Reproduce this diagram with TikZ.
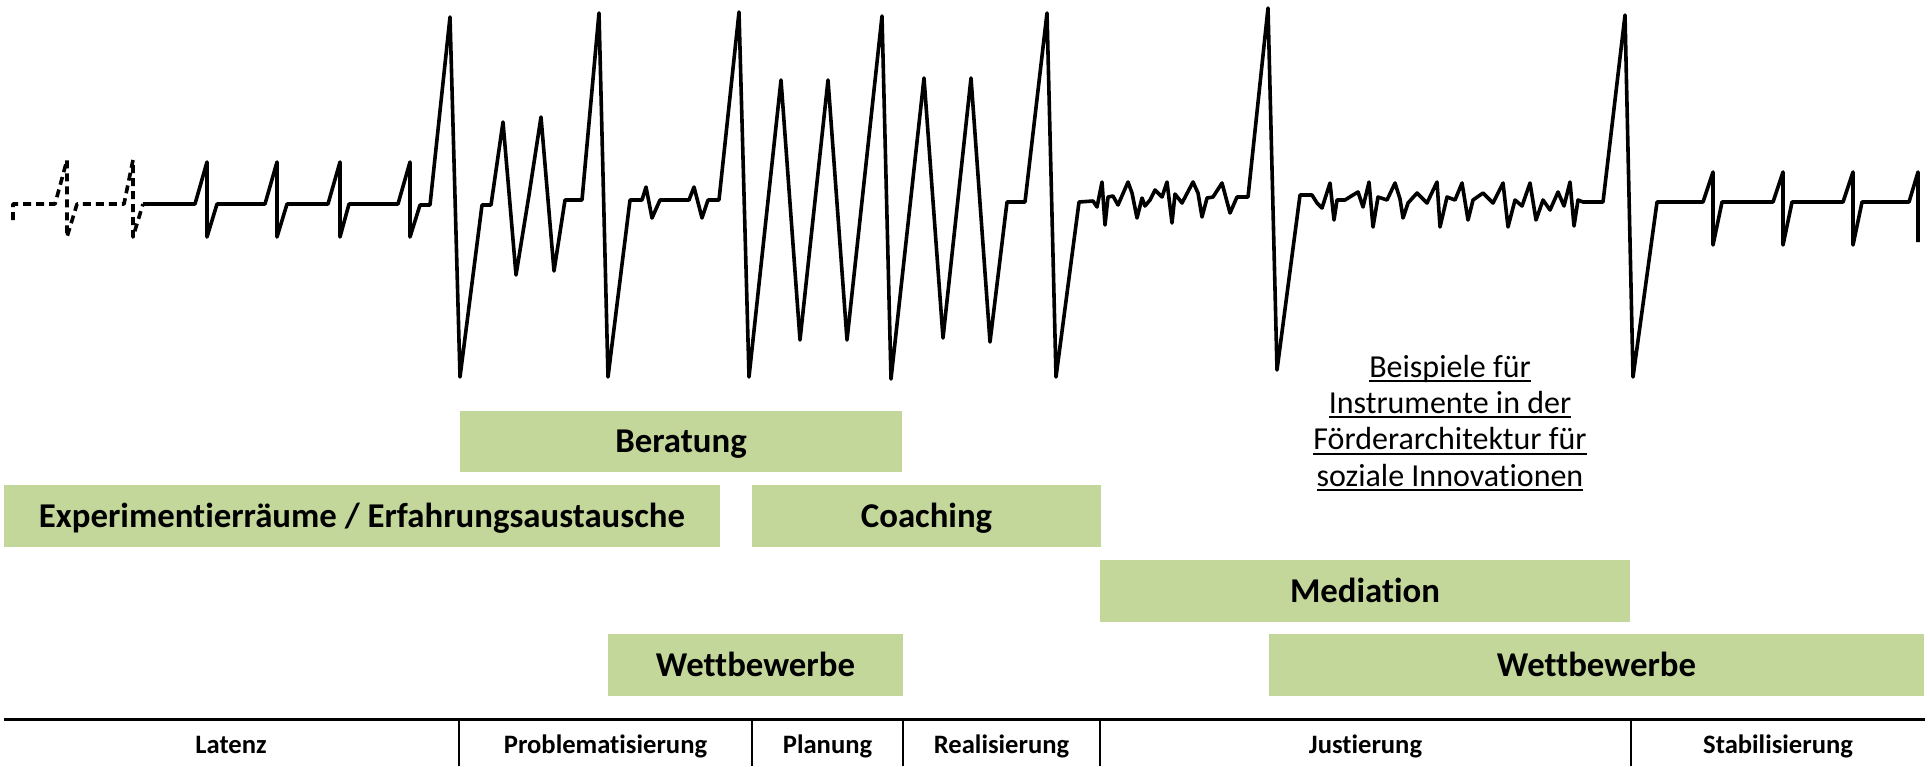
\documentclass[tikz,border=0pt]{standalone}
\usepackage{fontspec}
\setmainfont{Carlito}[Ligatures=NoCommon]
\definecolor{boxgreen}{HTML}{C4D79B}
\newcommand{\myul}[1]{\setbox0\hbox{#1}\rlap{\rule[-2.7pt]{\wd0}{1pt}}\box0}
\begin{document}
\begin{tikzpicture}[x=0.5pt,y=-0.5pt,
  wave/.style={line width=1.8pt, line join=round, black},
  dashwave/.style={wave, dash pattern=on 4pt off 2.5pt},
  box/.style={fill=boxgreen, inner sep=0pt, text height=11pt, text depth=0pt, font=\fontsize{17.4}{20}\selectfont\bfseries},
  phase/.style={anchor=base, inner sep=0pt, font=\fontsize{13.3}{15}\selectfont\bfseries},
  note/.style={anchor=base, inner sep=0pt, font=\fontsize{16}{18}\selectfont},
  rulebar/.style={line width=1.5pt, black},
  divider/.style={line width=1pt, black}
]
\useasboundingbox (0,0) rectangle (1930,766);

% ---------- waveform ----------
\draw[dashwave] (13,220) -- (13,204) -- (55,204) -- (67,160) -- (67,237) -- (77,204)
  -- (124,204) -- (133,160) -- (133,237) -- (143,204);
\draw[wave] (143,204) -- (195,204) -- (207,162) -- (207,237) -- (217,204)
  -- (265,204) -- (277,162) -- (277,237) -- (287,204)
  -- (328,204) -- (340,162) -- (340,237) -- (349,204)
  -- (398,204) -- (410,162) -- (410,237) -- (420,205) -- (430,205)
  -- (450,17) -- (460,377) -- (482,205) -- (491,205)
  -- (503,122) -- (516,275) -- (529,195) -- (541,117) -- (554,271) -- (565,200) -- (582,200)
  -- (599,13) -- (608,377) -- (630,200) -- (642,200)
  -- (646,187) -- (652,218) -- (660,200) -- (689,200) -- (694,187) -- (702,218) -- (708,200) -- (719,200)
  -- (739,12) -- (749,377) -- (781,80) -- (800,340) -- (828,80) -- (847,340)
  -- (882,16) -- (891,379) -- (924,78) -- (943,338) -- (971,78) -- (990,342)
  -- (1007,202) -- (1025,202) -- (1047,13) -- (1056,377) -- (1079,202) -- (1093,201)
  -- (1097,207) -- (1102,182) -- (1105,225) -- (1108,197) -- (1113,196) -- (1118,205)
  -- (1128,182) -- (1132,193) -- (1137,218) -- (1142,198) -- (1145,206) -- (1150,200)
  -- (1155,190) -- (1162,197) -- (1167,182) -- (1172,223) -- (1175,194) -- (1182,203)
  -- (1193,182) -- (1198,193) -- (1202,217) -- (1207,198) -- (1213,197) -- (1222,183)
  -- (1230,213) -- (1237,197) -- (1248,197)
  -- (1268,8) -- (1277,370) -- (1300,195) -- (1312,195)
  -- (1317,203) -- (1322,208) -- (1330,183) -- (1334,220) -- (1337,200) -- (1345,200)
  -- (1353,195) -- (1358,192) -- (1363,207) -- (1369,182) -- (1373,227) -- (1378,197)
  -- (1387,200) -- (1395,183) -- (1400,199) -- (1403,218) -- (1408,203) -- (1417,193)
  -- (1427,203) -- (1437,182) -- (1440,227) -- (1447,197) -- (1455,200) -- (1462,183)
  -- (1468,220) -- (1473,200) -- (1483,193) -- (1493,203) -- (1503,183) -- (1508,227)
  -- (1515,200) -- (1522,206) -- (1530,183) -- (1536,220) -- (1543,200) -- (1550,210)
  -- (1558,192) -- (1564,206) -- (1570,182) -- (1574,226) -- (1578,200) -- (1583,202)
  -- (1603,202)
  -- (1625,15) -- (1633,377) -- (1657,202) -- (1703,202)
  -- (1713,172) -- (1713,245) -- (1722,202) -- (1773,202)
  -- (1783,172) -- (1783,245) -- (1792,202) -- (1843,202)
  -- (1853,172) -- (1853,245) -- (1862,202) -- (1909,202)
  -- (1918,172) -- (1918,242);

% ---------- instrument boxes ----------
\node[box, minimum width=221pt, minimum height=30.5pt] (beratung) at (681,441.5) {Beratung};
\node[box, minimum width=358pt, minimum height=31pt] (experiment) at (362,516) {Experimentierräume / Erfahrungsaustausche};
\node[box, minimum width=174.5pt, minimum height=31pt] (coaching) at (926.5,516) {Coaching};
\node[box, minimum width=265pt, minimum height=31pt] (mediation) at (1365,591) {Mediation};
\node[box, minimum width=147.5pt, minimum height=31pt] (wett1) at (755.5,665) {Wettbewerbe};
\node[box, minimum width=327.5pt, minimum height=31pt] (wett2) at (1596.5,665) {Wettbewerbe};

% ---------- note ----------
\node[note] (note1) at (1450,377) {\myul{Beispiele für}};
\node[note] (note2) at (1450,413) {\myul{Instrumente in der}};
\node[note] (note3) at (1450,449.5) {\myul{Förderarchitektur für}};
\node[note] (note4) at (1450,486) {\myul{soziale Innovationen}};

% ---------- timeline ----------
\coordinate (tl) at (4,719);
\coordinate (tr) at (1925,719);
\draw[rulebar] (tl) -- (tr);
\foreach \x in {459,752,903,1100,1631} {
  \coordinate (top\x) at (\x,719);
  \coordinate (bot\x) at (\x,766);
  \draw[divider] (top\x) -- (bot\x);
}
\node[phase] (latenz) at (231,753) {Latenz};
\node[phase] (problem) at (605.5,753) {Problematisierung};
\node[phase] (planung) at (827.5,753) {Planung};
\node[phase] (realis) at (1001.5,753) {Realisierung};
\node[phase] (justier) at (1365.5,753) {Justierung};
\node[phase] (stabil) at (1778,753) {Stabilisierung};
\end{tikzpicture}
\end{document}
